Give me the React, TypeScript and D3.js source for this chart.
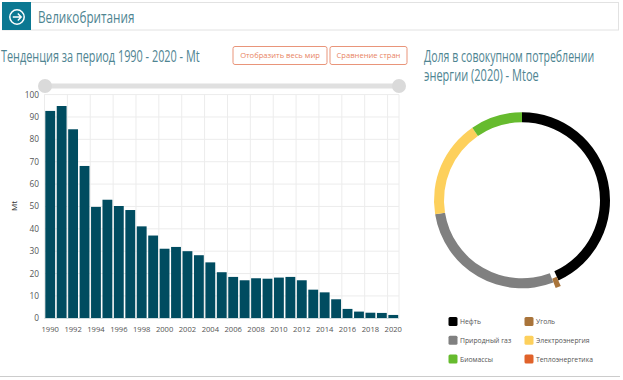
import React from "react";
import * as d3 from "d3";

const years = d3.range(1990, 2021).map(String);
const values = [92.7, 94.9, 84.5, 68.1, 49.8, 53, 50.2, 48.4, 41.1, 37, 31.1, 31.9, 30, 28.2, 25, 20.6, 18.5, 17, 17.9, 17.7, 18.2, 18.5, 17, 12.8, 11.6, 8.5, 4.2, 3, 2.5, 2.4, 1.5];
const yTicks = [0, 10, 20, 30, 40, 50, 60, 70, 80, 90, 100];
const sliceLabels = ["Нефть", "Уголь", "Природный газ", "Электроэнергия", "Биомассы", "Теплоэнергетика"];
const sliceValues = [43.2, 1.0, 28.25, 18.0, 9.55, 0];
const sliceColors = ["#000000", "#a9743a", "#808080", "#fdd05c", "#66bb2e", "#e0622a"];

const FONT = "'Open Sans', sans-serif";

function CondText({ x, y, size, fill, sx, children }: any) {
  return (
    <text transform={`translate(${x},${y}) scale(${sx},1)`} fontSize={size} fill={fill} fontFamily={FONT}>
      {children}
    </text>
  );
}

export default function App() {
  const x = d3.scaleBand<string>().domain(years).range([44.5, 399]).paddingInner(0.14).paddingOuter(0.07);
  const y = d3.scaleLinear().domain([0, 100]).range([318.3, 94.6]);
  const pie = d3.pie<number>().sort(null).startAngle(0).endAngle(2 * Math.PI);
  const arcs = pie(sliceValues);
  const arc = d3.arc<any>().innerRadius(78).outerRadius(88);
  const cx = 522;
  const cy = 200.3;
  const legendRows = [
    [0, 1],
    [2, 3],
    [4, 5],
  ];
  return (
    <svg width={623} height={380} style={{ position: "absolute", left: 0, top: 0, background: "#fff" }}>
      {/* header */}
      <rect x={2.5} y={2.5} width={616} height={27.5} fill="#fff" stroke="#e2e2e2" />
      <rect x={2} y={2} width={29} height={28} fill="#0b7892" />
      <circle cx={17} cy={17} r={7.2} fill="none" stroke="#fff" strokeWidth={1.5} />
      <path d="M12.8 17H21M17.8 13.6L21.2 17L17.8 20.4" fill="none" stroke="#fff" strokeWidth={1.4} />
      <CondText x={38} y={23} size={17} fill="#4f8592" sx={0.69}>Великобритания</CondText>
      <CondText x={1} y={62} size={16} fill="#4f8592" sx={0.68}>Тенденция за период 1990 - 2020 - Mt</CondText>
      <CondText x={424} y={62} size={16} fill="#4f8592" sx={0.66}>Доля в совокупном потреблении</CondText>
      <CondText x={424} y={80.5} size={16} fill="#4f8592" sx={0.69}>энергии (2020) - Mtoe</CondText>

      {/* buttons */}
      <rect x={233} y={46.5} width={94} height={18} rx={2} fill="#fff" stroke="#e9957a" />
      <rect x={330} y={46.5} width={77} height={18} rx={2} fill="#fff" stroke="#e9957a" />
      <text x={280} y={58} textAnchor="middle" fontSize={7.6} fill="#e8835f" fontFamily={FONT}>Отобразить весь мир</text>
      <text x={368.5} y={58} textAnchor="middle" fontSize={7.6} fill="#e8835f" fontFamily={FONT}>Сравнение стран</text>

      {/* slider */}
      <rect x={46} y={83.5} width={353} height={5} fill="#e0e0e0" />
      <circle cx={45} cy={86} r={7} fill="#dadada" />
      <circle cx={399} cy={86} r={7} fill="#dadada" />

      {/* grid */}
      {yTicks.map((t) => (
        <line key={t} x1={44.5} x2={399} y1={y(t)} y2={y(t)} stroke="#ececec" />
      ))}
      {years.filter((_, i) => i % 2 === 0).map((yr) => (
        <line key={yr} x1={x(yr)! - x.step() * 0.07} x2={x(yr)! - x.step() * 0.07} y1={94.6} y2={318.3} stroke="#ececec" />
      ))}
      <line x1={44.5} x2={44.5} y1={94.6} y2={318.3} stroke="#ececec" />
      <line x1={399} x2={399} y1={94.6} y2={318.3} stroke="#ececec" />

      {/* bars */}
      {values.map((v, i) => (
        <rect key={years[i]} x={x(years[i])} y={y(v)} width={x.bandwidth()} height={y(0) - y(v)} fill="#004c60" />
      ))}
      <line x1={44.5} x2={399} y1={318.5} y2={318.5} stroke="#cfdde0" />

      {/* axes */}
      {yTicks.map((t) => (
        <text key={t} x={39} y={y(t) + 3} textAnchor="end" fontSize={8.3} fill="#555" fontFamily={FONT}>{t}</text>
      ))}
      {years.filter((_, i) => i % 2 === 0).map((yr) => (
        <text key={yr} x={x(yr)! + x.bandwidth() / 2} y={331.5} textAnchor="middle" fontSize={7.6} fill="#555" fontFamily={FONT}>{yr}</text>
      ))}
      <text transform="translate(17,206) rotate(-90)" textAnchor="middle" fontSize={8} fill="#333" fontFamily={FONT}>Mt</text>

      {/* donut */}
      <g transform={`translate(${cx},${cy})`}>
        {arcs.map((a, i) => {
          if (a.value === 0) return null;
          const exploded = i === 1;
          const mid = (a.startAngle + a.endAngle) / 2;
          const off = exploded ? 6 : 0;
          return (
            <path
              key={sliceLabels[i]}
              d={arc(a)!}
              fill={sliceColors[i]}
              transform={`translate(${off * Math.sin(mid)},${-off * Math.cos(mid)})`}
            />
          );
        })}
      </g>

      {/* legend */}
      {legendRows.map((row, r) =>
        row.map((idx, c) => {
          const lx = c === 0 ? 448.5 : 524.5;
          const ly = 321.5 + r * 18.7;
          return (
            <g key={idx}>
              <rect x={lx} y={ly - 4.5} width={9} height={9} rx={1.5} fill={sliceColors[idx]} />
              <text x={lx + 11.5} y={ly + 2.6} fontSize={6.8} fill="#555" fontFamily={FONT}>{sliceLabels[idx]}</text>
            </g>
          );
        })
      )}
      <line x1={0} x2={620} y1={376.5} y2={376.5} stroke="#cccccc" />
    </svg>
  );
}
